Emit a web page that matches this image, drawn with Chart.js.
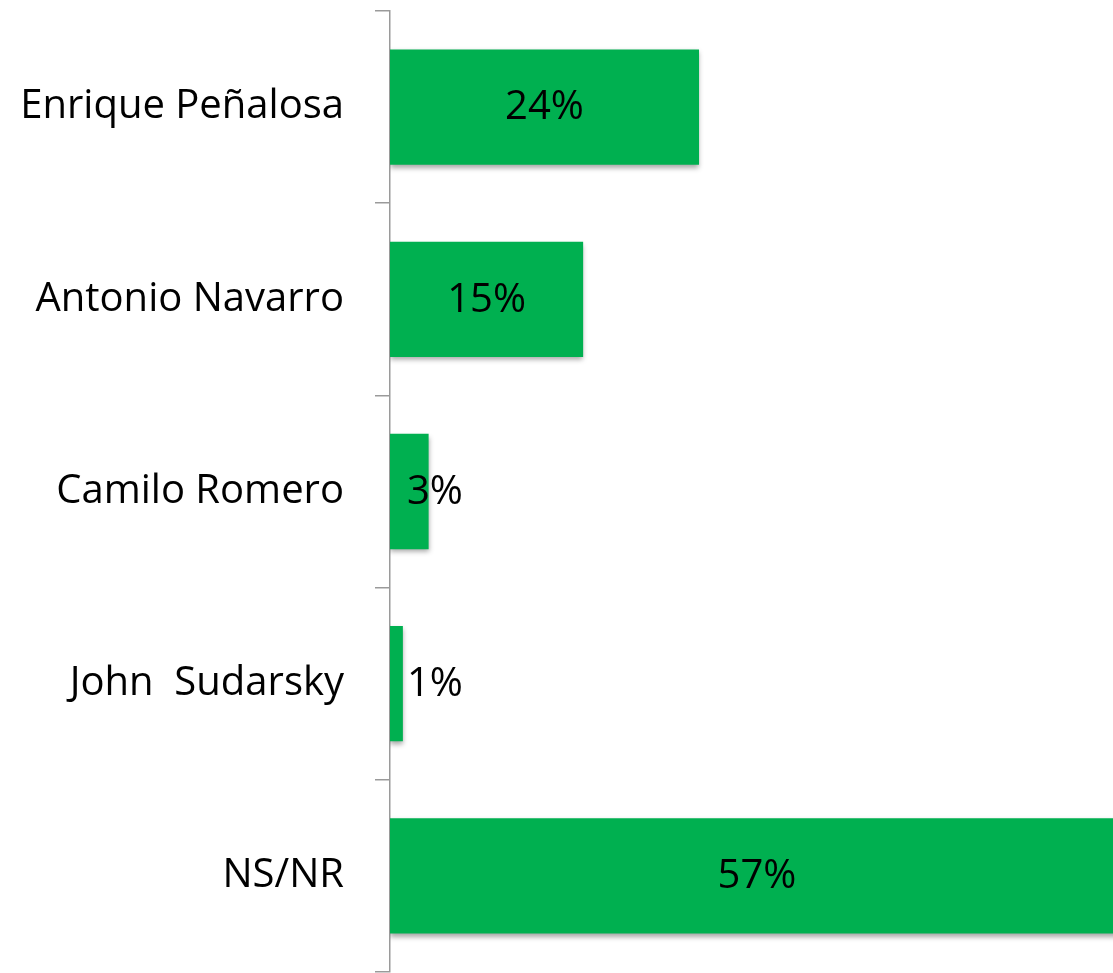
<!DOCTYPE html>
<html>
<head>
<meta charset="utf-8">
<script src="https://cdn.jsdelivr.net/npm/chart.js@4"></script>
<style>
  html, body { margin: 0; padding: 0; background: #fff; overflow: hidden; }
  #cadre { width: 1113px; height: 973px; }
</style>
</head>
<body>
<div id="cadre"><canvas id="graphique"></canvas></div>
<script>
// données
const candidats = ['Enrique Peñalosa', 'Antonio Navarro', 'Camilo Romero', 'John  Sudarsky', 'NS/NR'];
const pourcentages = [24, 15, 3, 1, 57];
const etiquettes = ['24%', '15%', '3%', '1%', '57%'];

const VERT = '#00B050';
const POLICE = '"Open Sans", "Noto Sans", sans-serif';
const TAILLE = 40;

// ombre légère sous les barres
const ombreBarres = {
  id: 'ombreBarres',
  beforeDatasetsDraw(chart) {
    const ctx = chart.ctx;
    ctx.save();
    ctx.shadowColor = 'rgba(0,0,0,0.35)';
    ctx.shadowBlur = 5;
    ctx.shadowOffsetY = 3;
  },
  afterDatasetsDraw(chart) {
    chart.ctx.restore();
  }
};

// étiquettes de valeur, centrées dans la barre (ou à côté si trop petite)
const etiquettesValeurs = {
  id: 'etiquettesValeurs',
  afterDatasetsDraw(chart) {
    const ctx = chart.ctx;
    const meta = chart.getDatasetMeta(0);
    ctx.save();
    ctx.font = TAILLE + 'px ' + POLICE;
    ctx.fillStyle = '#000';
    ctx.textBaseline = 'middle';
    meta.data.forEach((barre, i) => {
      const texte = etiquettes[i];
      const largeur = ctx.measureText(texte).width;
      const longueur = barre.x - barre.base;
      if (largeur < longueur) {
        ctx.textAlign = 'center';
        ctx.fillText(texte, (barre.base + barre.x) / 2, barre.y + 1);
      } else {
        ctx.textAlign = 'left';
        ctx.fillText(texte, barre.base + 17, barre.y + 1);
      }
    });
    ctx.restore();
  }
};

new Chart(document.getElementById('graphique'), {
  type: 'bar',
  data: {
    labels: candidats,
    datasets: [{
      data: pourcentages,
      backgroundColor: VERT,
      borderWidth: 0,
      barPercentage: 0.6,
      categoryPercentage: 1
    }]
  },
  options: {
    indexAxis: 'y',
    responsive: true,
    maintainAspectRatio: false,
    animation: false,
    layout: { padding: { top: 11, bottom: 1, left: 0, right: 0 } },
    plugins: { legend: { display: false }, tooltip: { enabled: false } },
    scales: {
      x: {
        display: false,
        min: 0,
        max: 56.15
      },
      y: {
        afterFit(scale) {
          scale.width = 390;
          scale.paddingTop = 0;
          scale.paddingBottom = 0;
        },
        border: { display: true, color: '#9a9a9a', width: 1.5 },
        grid: { drawOnChartArea: false, tickLength: 15, color: '#9a9a9a', lineWidth: 1.5, offset: true },
        ticks: {
          color: '#000',
          padding: 31,
          font: { family: POLICE, size: TAILLE }
        }
      }
    }
  },
  plugins: [ombreBarres, etiquettesValeurs]
});
</script>
</body>
</html>
